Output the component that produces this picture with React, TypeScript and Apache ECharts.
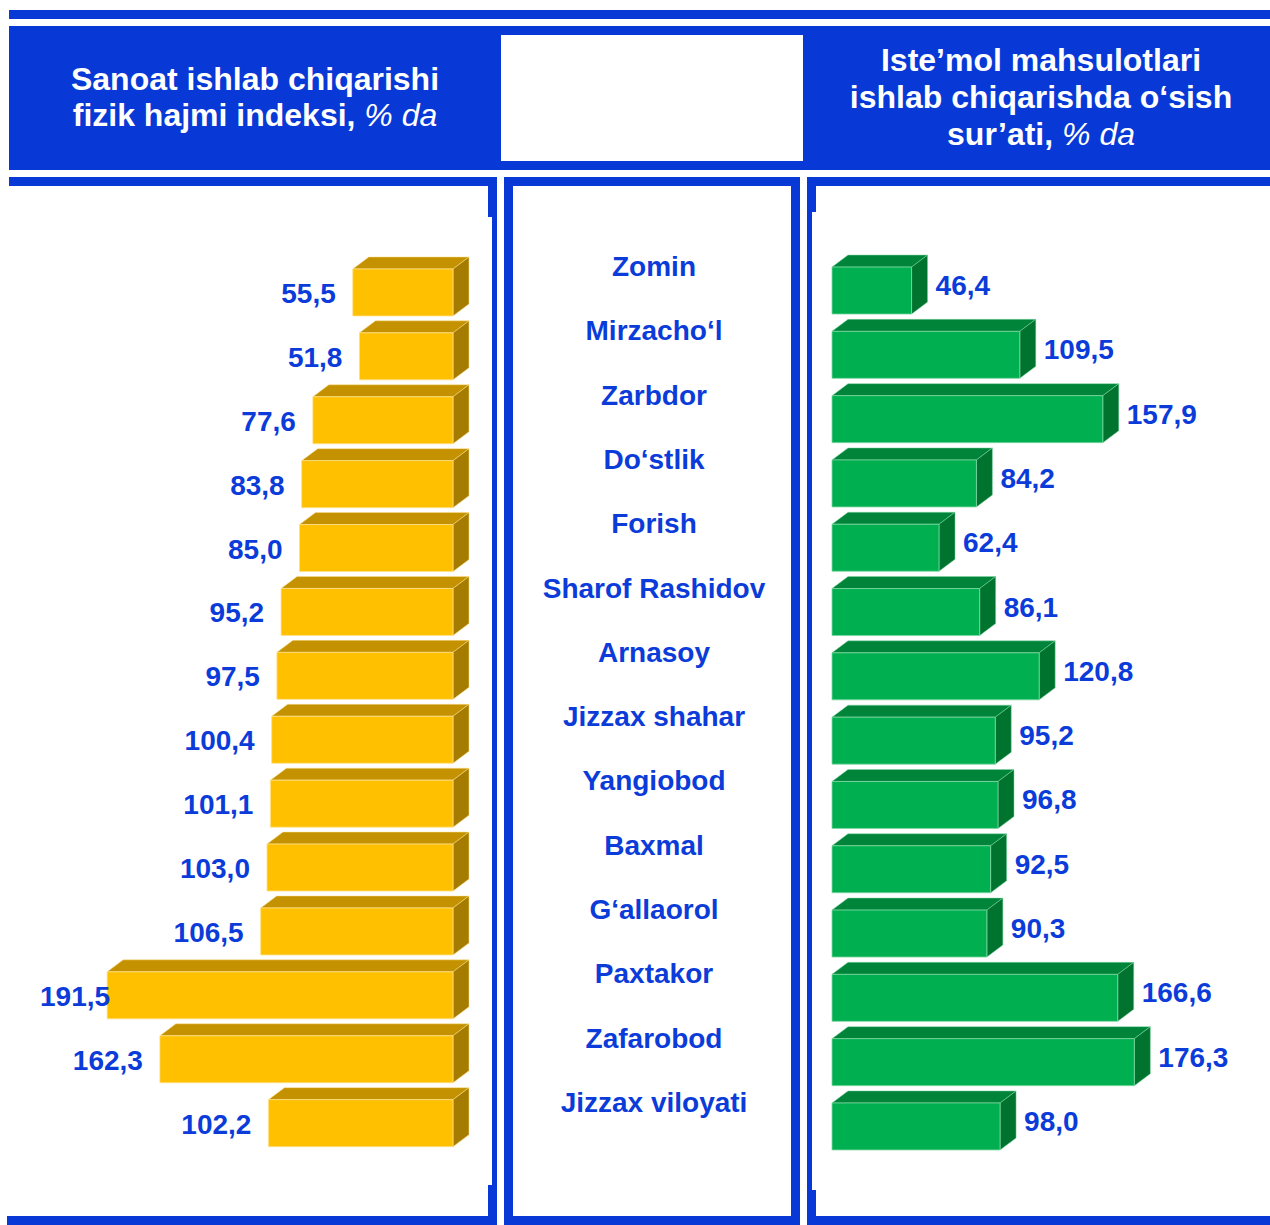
import React, { useEffect, useRef } from "react";
import * as echarts from "echarts";

// Districts of Jizzax region, top to bottom
const districts = [
  "Zomin",
  "Mirzacho‘l",
  "Zarbdor",
  "Do‘stlik",
  "Forish",
  "Sharof Rashidov",
  "Arnasoy",
  "Jizzax shahar",
  "Yangiobod",
  "Baxmal",
  "G‘allaorol",
  "Paxtakor",
  "Zafarobod",
  "Jizzax viloyati",
];

// Industrial production physical volume index, %
const industrialIndex = [55.5, 51.8, 77.6, 83.8, 85.0, 95.2, 97.5, 100.4, 101.1, 103.0, 106.5, 191.5, 162.3, 102.2];

// Consumer goods production growth rate, %
const consumerGrowth = [46.4, 109.5, 157.9, 84.2, 62.4, 86.1, 120.8, 95.2, 96.8, 92.5, 90.3, 166.6, 176.3, 98.0];

const leftTitle = ["Sanoat ishlab chiqarishi", "fizik hajmi indeksi, "];
const rightTitle = ["Iste’mol mahsulotlari", "ishlab chiqarishda o‘sish", "sur’ati, "];
const unitText = "% da";

const FRAME = "#0839D6";
const TEXT_BLUE = "#0B3CD9";
const FONT = '"Liberation Sans", Arial, Helvetica, sans-serif';

const YELLOW = { front: "#FFC000", top: "#C49200", side: "#A67C00", edge: "#FFE08A" };
const GREEN = { front: "#00B050", top: "#00843A", side: "#00732F", edge: "#7ED8A2" };

const BAR_H = 47;
const DEPTH_X = 16;
const DEPTH_Y = 12;

const fmt = (v: number) => v.toFixed(1).replace(".", ",");

function barRenderer(side: "left" | "right", colors: typeof YELLOW) {
  return (params: any, api: any) => {
    const v = api.value(0);
    const c = api.value(1);
    const end = api.coord([v, c]);
    const base = api.coord([0, c]);
    const xl = Math.min(end[0], base[0]);
    const xr = Math.max(end[0], base[0]);
    const yc = end[1];
    const yt = yc - BAR_H / 2;
    const yb = yc + BAR_H / 2;

    const label =
      side === "left"
        ? (() => {
            const right = xl - 17;
            const minRight = 40 + 2.6 * 28;
            return right >= minRight
              ? { x: right, y: yc + 1, align: "right" }
              : { x: 40, y: yc + 1, align: "left" };
          })()
        : { x: xr + DEPTH_X + 8, y: yc - 5, align: "left" };

    return {
      type: "group",
      children: [
        {
          type: "polygon",
          shape: {
            points: [
              [xl, yt],
              [xr, yt],
              [xr + DEPTH_X, yt - DEPTH_Y],
              [xl + DEPTH_X, yt - DEPTH_Y],
            ],
          },
          style: { fill: colors.top, stroke: colors.edge, lineWidth: 0.5 },
        },
        {
          type: "polygon",
          shape: {
            points: [
              [xr, yt],
              [xr + DEPTH_X, yt - DEPTH_Y],
              [xr + DEPTH_X, yb - DEPTH_Y],
              [xr, yb],
            ],
          },
          style: { fill: colors.side, stroke: colors.edge, lineWidth: 0.5 },
        },
        {
          type: "rect",
          shape: { x: xl, y: yt, width: xr - xl, height: BAR_H },
          style: { fill: colors.front, stroke: colors.edge, lineWidth: 0.8 },
        },
        {
          type: "text",
          x: label.x,
          y: label.y,
          style: {
            text: fmt(v),
            fill: TEXT_BLUE,
            fontFamily: FONT,
            fontSize: 28,
            fontWeight: "bold",
            align: label.align,
            verticalAlign: "middle",
          },
        },
      ],
    };
  };
}

function frameRects() {
  const r = (x: number, y: number, w: number, h: number, fill = FRAME) => ({
    type: "rect",
    silent: true,
    z: -10,
    shape: { x, y, width: w, height: h },
    style: { fill },
  });
  return [
    r(9, 10, 1261, 9),
    r(9, 26, 1261, 144),
    r(501, 35, 302, 126, "#FFFFFF"),
    // left panel
    r(9, 177, 488, 9),
    r(492, 177, 5, 1048),
    r(488, 186, 4, 31),
    r(488, 1185, 4, 31),
    r(7, 1216, 490, 9),
    // middle panel
    r(504, 177, 296, 9),
    r(504, 177, 9, 1048),
    r(791, 177, 9, 1048),
    r(504, 1216, 296, 9),
    // right panel
    r(807, 177, 463, 9),
    r(807, 177, 5, 1048),
    r(812, 186, 4, 26),
    r(812, 1190, 4, 26),
    r(807, 1216, 463, 9),
  ];
}

function titleText(lines: string[], x: number, y: number, lineHeight: number) {
  const parts = lines.map((l, i) =>
    i === lines.length - 1 ? `{b|${l}}{i|${unitText}}` : `{b|${l}}`
  );
  return {
    type: "text",
    x,
    y,
    z: 10,
    style: {
      text: parts.join("\n"),
      align: "center",
      verticalAlign: "middle",
      fill: "#FFFFFF",
      rich: {
        b: { fontFamily: FONT, fontSize: 32, fontWeight: "bold", fill: "#FFFFFF", lineHeight, color: "#FFFFFF" },
        i: { fontFamily: FONT, fontSize: 32, fontStyle: "italic", fontWeight: "normal", fill: "#FFFFFF", lineHeight, color: "#FFFFFF" },
      },
    },
  };
}

export default function App() {
  const ref = useRef<HTMLDivElement>(null);

  useEffect(() => {
    if (!ref.current) return;
    const chart = echarts.init(ref.current, undefined, { renderer: "svg" });

    const leftScale = 1.806;
    const rightScale = 1.715;
    const maxV = 200;

    chart.setOption({
      animation: false,
      backgroundColor: "#FFFFFF",
      graphic: [
        ...frameRects(),
        titleText(leftTitle, 255, 97, 36),
        titleText(rightTitle, 1041, 97, 37),
      ],
      grid: [
        { left: 453 - maxV * leftScale, width: maxV * leftScale, top: 260.5, height: 14 * 63.9 },
        { left: 832, width: maxV * rightScale, top: 258.4, height: 14 * 64.3 },
      ],
      xAxis: [
        { gridIndex: 0, type: "value", min: 0, max: maxV, inverse: true, show: false },
        { gridIndex: 1, type: "value", min: 0, max: maxV, show: false },
      ],
      yAxis: [
        {
          gridIndex: 0,
          type: "category",
          data: districts,
          inverse: true,
          show: false,
        },
        {
          gridIndex: 1,
          type: "category",
          data: districts,
          inverse: true,
          position: "left",
          axisLine: { show: false },
          axisTick: { show: false },
          splitLine: { show: false },
          axisLabel: {
            interval: 0,
            align: "center",
            verticalAlign: "bottom",
            lineHeight: 48,
            margin: 178,
            color: TEXT_BLUE,
            fontFamily: FONT,
            fontSize: 28,
            fontWeight: "bold",
          },
        },
      ],
      series: [
        {
          type: "custom",
          xAxisIndex: 0,
          yAxisIndex: 0,
          encode: { x: 0, y: 1 },
          data: industrialIndex.map((v, i) => [v, i]),
          renderItem: barRenderer("left", YELLOW),
        },
        {
          type: "custom",
          xAxisIndex: 1,
          yAxisIndex: 1,
          encode: { x: 0, y: 1 },
          data: consumerGrowth.map((v, i) => [v, i]),
          renderItem: barRenderer("right", GREEN),
        },
      ],
    });

    return () => chart.dispose();
  }, []);

  return (
    <div
      ref={ref}
      style={{ position: "absolute", left: 0, top: 0, width: 1270, height: 1225 }}
    />
  );
}
